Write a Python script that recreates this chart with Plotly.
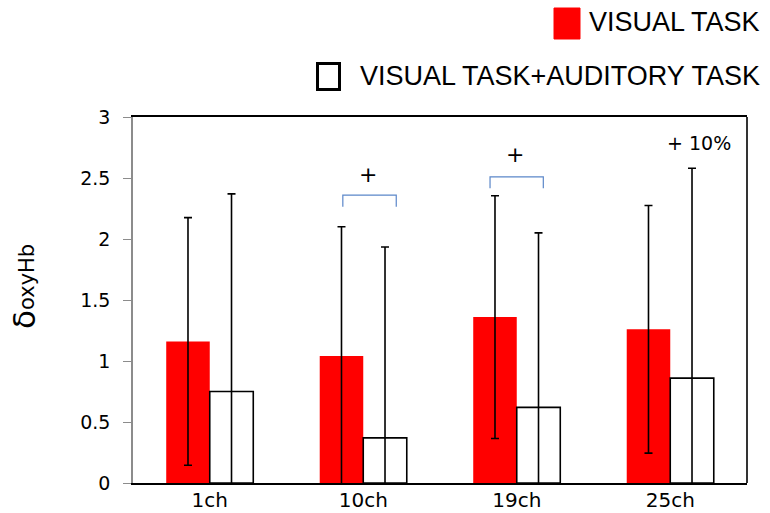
import plotly.graph_objects as go

# Mean oxy-Hb change per channel and its standard deviation
channels = ["1ch", "10ch", "19ch", "25ch"]
series_names = ["VISUAL TASK", "VISUAL TASK+AUDITORY TASK"]
visual_mean = [1.16, 1.04, 1.36, 1.26]
visual_sd = [1.015, 1.06, 0.995, 1.015]
dual_mean = [0.75, 0.37, 0.62, 0.86]
dual_sd = [1.62, 1.565, 1.43, 1.72]

# Significance marks: channel, label, bracket drawn or not
sig_channels = ["10ch", "19ch", "25ch"]
sig_labels = ["+", "+", "+ 10%"]
sig_bracket = [True, True, False]
y_ticks = [0, 0.5, 1, 1.5, 2, 2.5, 3]

W, H = 770, 513
L, R, T, B = 133, 23, 117, 30
PW, PH = W - L - R, H - T - B


def px(x):
    return (x - L) / PW


def py(y):
    return (H - B - y) / PH


fig = go.Figure()
fig.add_trace(go.Bar(
    x=channels, y=visual_mean, name=series_names[0],
    marker=dict(color="#FF0000", line=dict(width=0)),
    error_y=dict(type="data", array=visual_sd, color="black",
                 thickness=1.6, width=4),
))
fig.add_trace(go.Bar(
    x=channels, y=dual_mean, name=series_names[1],
    marker=dict(color="white", line=dict(color="black", width=1.6)),
    error_y=dict(type="data", array=dual_sd, color="black",
                 thickness=1.6, width=4),
))

shapes = []
annotations = []

# Brackets and significance labels above the channel groups
bracket_geom = {"10ch": (-0.133, 0.215, 2.265, 2.36),
                "19ch": (-0.174, 0.173, 2.415, 2.51)}
label_geom = {"10ch": (0.03, 2.53, 22), "19ch": (-0.01, 2.69, 22),
              "25ch": (0.19, 2.79, 19)}
for ch, lab, br in zip(sig_channels, sig_labels, sig_bracket):
    i = channels.index(ch)
    if br:
        x0, x1, yb, yt = bracket_geom[ch]
        shapes.append(dict(
            type="path", xref="x", yref="y",
            path=f"M {i + x0} {yb} L {i + x0} {yt} L {i + x1} {yt} L {i + x1} {yb}",
            line=dict(color="#5B87C9", width=1.2)))
    dx, yy, fs = label_geom[ch]
    annotations.append(dict(
        x=i + dx, y=yy, xref="x", yref="y", text=lab, showarrow=False,
        font=dict(family="DejaVu Sans", size=fs, color="black"),
        xanchor="center", yanchor="middle"))

# Right border of the plot frame
shapes.append(dict(type="line", xref="paper", yref="paper",
                   x0=1, x1=1, y0=0, y1=1, line=dict(color="black", width=1.6)))

# Legend drawn at the top right
shapes.append(dict(
    type="rect", xref="paper", yref="paper",
    x0=px(554), x1=px(580), y0=py(39), y1=py(8),
    fillcolor="#FF0000", line=dict(color="#FF0000", width=1)))
shapes.append(dict(
    type="rect", xref="paper", yref="paper",
    x0=px(317.5), x1=px(339.5), y0=py(89.5), y1=py(63.5),
    fillcolor="white", line=dict(color="black", width=3)))
for name, yc in zip(series_names, [22, 76]):
    annotations.append(dict(
        x=px(762), y=py(yc), xref="paper", yref="paper", text=name,
        showarrow=False, xanchor="right", yanchor="middle",
        font=dict(family="Liberation Sans", size=27, color="black")))

# Axis title: large delta followed by a smaller "oxyHb"
annotations.append(dict(
    x=px(24), y=py(320), xref="paper", yref="paper", textangle=-90,
    text="δ", showarrow=False, xanchor="center", yanchor="middle",
    font=dict(family="DejaVu Sans", size=31, color="black")))
annotations.append(dict(
    x=px(27), y=py(277), xref="paper", yref="paper", textangle=-90,
    text="oxyHb", showarrow=False, xanchor="center", yanchor="middle",
    font=dict(family="DejaVu Sans", size=21, color="black")))

fig.update_layout(
    width=W, height=H,
    margin=dict(l=L, r=R, t=T, b=B, autoexpand=False),
    paper_bgcolor="white", plot_bgcolor="white",
    barmode="group", bargap=0.433, bargroupgap=0,
    showlegend=False,
    shapes=shapes, annotations=annotations,
    xaxis=dict(
        type="category", range=[-0.5, 3.5], showgrid=False,
        showline=True, linecolor="black", linewidth=1.6, mirror=True,
        ticks="", ticklabelstandoff=-2,
        tickfont=dict(family="DejaVu Sans", size=20, color="black"),
        automargin=False,
    ),
    yaxis=dict(
        range=[0, 3], tickvals=y_ticks, ticktext=[f"{v:g}" for v in y_ticks],
        showgrid=False, zeroline=False,
        showline=True, linecolor="#8C8C8C", linewidth=1.6,
        ticks="outside", ticklen=8, tickcolor="#8C8C8C", tickwidth=1.3,
        ticklabelstandoff=9,
        tickfont=dict(family="DejaVu Sans", size=19, color="black"),
        automargin=False,
    ),
)

fig.write_html("out.html")
